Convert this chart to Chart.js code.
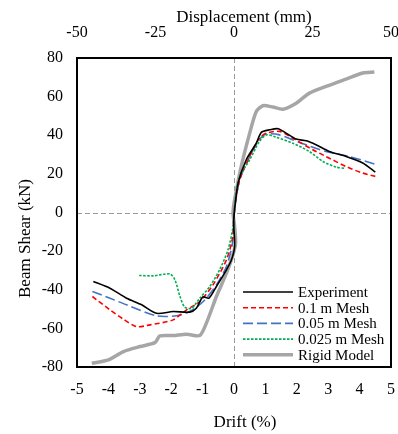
<!DOCTYPE html>
<html><head><meta charset="utf-8">
<script src="https://cdn.jsdelivr.net/npm/chart.js@4.4.1/dist/chart.umd.min.js"></script>
<style>html,body{margin:0;padding:0;background:#fff;overflow:hidden}#wrap{width:398px;height:434px;position:relative}</style>
</head><body><div id="wrap"><canvas id="c" width="398" height="434"></canvas></div>
<script>
// ---- data ----
const driftTicks = [-5,-4,-3,-2,-1,0,1,2,3,4,5];
const dispTicks = [-50,-25,0,25,50];
const shearTicks = [-80,-60,-40,-20,0,20,40,60,80];
const seriesNames = ['Experiment','0.1 m Mesh','0.05 m Mesh','0.025 m Mesh','Rigid Model'];

const expDrift = [-4.48,-3.95,-3.42,-2.94,-2.47,-1.94,-1.41,-1.20,-0.99,-0.80,-0.56,-0.24,-0.08,0.02,-0.01,0.02,0.13,0.39,0.71,0.87,1.13,1.40,1.66,1.98,2.30,2.61,3.04,3.57,4.10,4.50];
const expShear = [-35.7,-39.2,-44.4,-47.8,-52.2,-51.3,-51.6,-49.6,-43.7,-44.4,-38.3,-29.7,-24.5,-17.6,-5.5,1.4,15.2,27.3,35.9,41.5,42.8,43.4,41.1,38.0,37.1,35.1,31.6,29.0,25.6,20.9];

const m10Drift = [-4.51,-3.95,-3.52,-3.10,-2.68,-1.94,-1.51,-1.09,-0.67,-0.24,-0.05,0.02,0.18,0.50,0.81,1.03,1.45,1.87,2.51,2.93,3.57,4.10,4.50];
const m10Shear = [-43.5,-50.4,-55.3,-59.1,-58.2,-55.6,-50.4,-46.1,-37.5,-24.5,-13.3,3.1,16.9,29.0,38.5,41.1,42.0,38.5,32.5,29.0,23.8,20.4,18.7];

const m05Drift = [-4.51,-3.95,-3.42,-2.47,-1.83,-1.41,-0.98,-0.56,-0.24,-0.05,0.02,0.18,0.50,0.81,1.03,1.45,2.08,2.93,3.67,4.50];
const m05Shear = [-40.9,-44.4,-47.8,-53.5,-53.5,-51.3,-46.1,-37.5,-28.0,-15.9,1.4,16.9,29.0,37.7,40.6,40.2,36.3,31.6,29.0,25.0];

const m025Drift = [-3.02,-2.57,-2.04,-1.88,-1.72,-1.57,-1.35,-1.09,-0.77,-0.46,-0.19,-0.03,0.05,0.18,0.50,0.81,1.03,1.34,1.87,2.40,2.83,3.25,3.55];
const m025Shear = [-32.6,-32.8,-31.8,-34.9,-43.5,-49.0,-49.6,-44.4,-38.3,-29.7,-19.3,-7.3,8.3,18.7,27.3,36.8,40.2,39.0,35.9,31.6,26.4,23.5,22.8];

const rigidDrift = [-4.53,-4.00,-3.52,-2.99,-2.52,-2.36,-1.94,-1.51,-1.09,-0.88,-0.56,-0.24,-0.05,0.05,0.02,-0.03,0.02,0.23,0.50,0.71,0.92,1.24,1.56,1.98,2.40,2.93,3.57,4.10,4.47];
const rigidShear = [-78.1,-76.3,-72.0,-69.4,-67.4,-63.9,-63.7,-63.0,-63.7,-57.3,-43.5,-31.4,-22.8,-15.9,-7.3,0.0,6.6,23.8,41.1,52.3,55.3,54.6,53.5,56.6,61.8,65.3,69.1,72.2,72.7];

const toPts = (xs, ys) => xs.map((x, i) => ({x: x, y: ys[i]}));
const FONT = "'Liberation Serif','Times New Roman',serif";

const styles = [
  {color:'#000000', width:1.6, dash:[], order:0},
  {color:'#FF0000', width:1.6, dash:[5,3], order:2},
  {color:'#4472C4', width:1.6, dash:[10,4], order:3},
  {color:'#00B050', width:1.6, dash:[2.5,1.5], order:1},
  {color:'#A6A6A6', width:3.5, dash:[], order:5}
];
const dataPairs = [[expDrift,expShear],[m10Drift,m10Shear],[m05Drift,m05Shear],[m025Drift,m025Shear],[rigidDrift,rigidShear]];

const datasets = dataPairs.map((p, i) => ({
  label: seriesNames[i],
  data: toPts(p[0], p[1]),
  showLine: true,
  borderColor: styles[i].color,
  backgroundColor: styles[i].color,
  borderWidth: styles[i].width,
  borderDash: styles[i].dash,
  pointRadius: 0,
  tension: 0.25,
  order: styles[i].order,
  xAxisID: 'x',
  yAxisID: 'y'
}));

const decor = {
  id: 'decor',
  beforeDatasetsDraw(chart) {
    const ctx = chart.ctx, a = chart.chartArea;
    const x0 = chart.scales.x.getPixelForValue(0);
    const y0 = chart.scales.y.getPixelForValue(0);
    ctx.save();
    ctx.strokeStyle = '#9a9a9a';
    ctx.lineWidth = 1;
    ctx.setLineDash([5,3]);
    ctx.beginPath();
    ctx.moveTo(Math.round(x0)+0.5, a.top); ctx.lineTo(Math.round(x0)+0.5, a.bottom);
    ctx.moveTo(a.left, Math.round(y0)+0.5); ctx.lineTo(a.right, Math.round(y0)+0.5);
    ctx.stroke();
    ctx.restore();
  },
  afterDraw(chart) {
    const ctx = chart.ctx, a = chart.chartArea;
    ctx.save();
    ctx.strokeStyle = '#000';
    ctx.lineWidth = 2;
    ctx.setLineDash([]);
    ctx.strokeRect(a.left, a.top, a.right - a.left, a.bottom - a.top);
    ctx.fillStyle = '#000';
    ctx.font = '17px ' + FONT;
    ctx.textAlign = 'center';
    ctx.textBaseline = 'alphabetic';
    ctx.fillText('Displacement (mm)', 244, 22);
    ctx.fillText('Drift (%)', 245, 427);
    ctx.save();
    ctx.translate(30, 238.5);
    ctx.rotate(-Math.PI/2);
    ctx.fillText('Beam Shear (kN)', 0, 0);
    ctx.restore();
    ctx.font = '15px ' + FONT;
    ctx.textAlign = 'left';
    ctx.textBaseline = 'middle';
    chart.data.datasets.forEach((ds, i) => {
      const y = 292 + i * 15.7;
      ctx.save();
      ctx.strokeStyle = ds.borderColor;
      ctx.lineWidth = ds.borderWidth;
      ctx.setLineDash(ds.borderDash);
      ctx.beginPath();
      ctx.moveTo(243, y); ctx.lineTo(293, y);
      ctx.stroke();
      ctx.restore();
      ctx.fillStyle = '#000';
      ctx.fillText(ds.label, 298, y + 1);
    });
    ctx.restore();
  }
};

const noPad = s => { s.paddingLeft = 0; s.paddingRight = 0; s.paddingTop = 0; s.paddingBottom = 0; };

new Chart(document.getElementById('c'), {
  type: 'scatter',
  data: { datasets },
  plugins: [decor],
  options: {
    responsive: false,
    animation: false,
    devicePixelRatio: 1,
    layout: { padding: { left: 0, right: 7, top: 0, bottom: 0 } },
    plugins: { legend: { display: false }, tooltip: { enabled: false }, title: { display: false } },
    scales: {
      x: {
        type: 'linear', position: 'bottom', min: -5, max: 5,
        afterBuildTicks: s => { s.ticks = driftTicks.map(v => ({value: v})); },
        afterFit: s => { s.height = 67; noPad(s); },
        grid: { display: false, drawTicks: false },
        border: { display: false },
        ticks: { color: '#000', padding: 13, font: { family: FONT, size: 16 } }
      },
      x2: {
        type: 'linear', position: 'top', min: -50, max: 50,
        afterBuildTicks: s => { s.ticks = dispTicks.map(v => ({value: v})); },
        afterFit: s => { s.height = 58; noPad(s); },
        grid: { display: false, drawTicks: false },
        border: { display: false },
        ticks: { color: '#000', padding: 16, font: { family: FONT, size: 16 } }
      },
      y: {
        type: 'linear', position: 'left', min: -80, max: 80,
        afterBuildTicks: s => { s.ticks = shearTicks.map(v => ({value: v})); },
        afterFit: s => { s.width = 77; noPad(s); },
        grid: { display: false, drawTicks: false },
        border: { display: false },
        ticks: { color: '#000', padding: 14, font: { family: FONT, size: 16 } }
      }
    }
  }
});
</script>
</body></html>
